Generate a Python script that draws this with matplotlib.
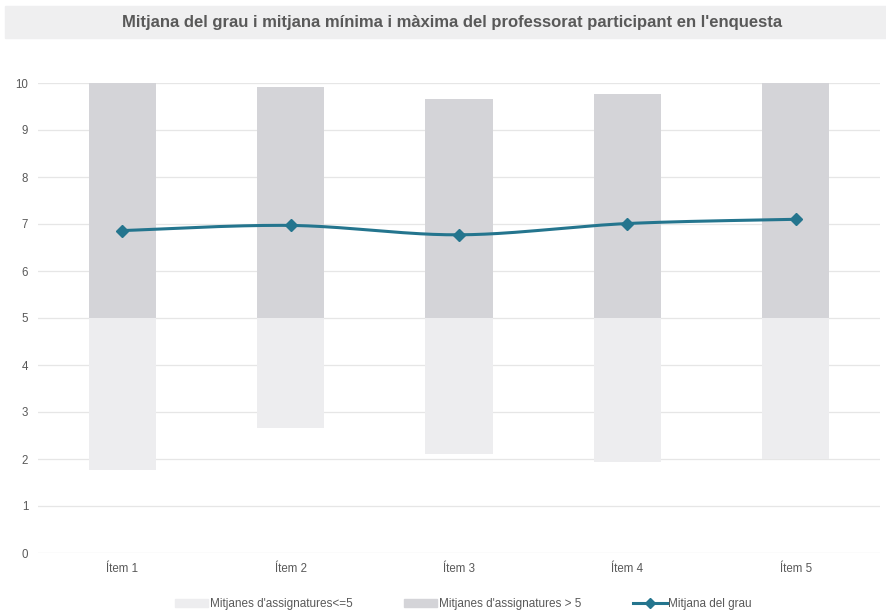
import numpy as np
import matplotlib.pyplot as plt
from matplotlib.patches import Patch, Rectangle
from matplotlib.lines import Line2D

plt.rcParams['font.family'] = ['Liberation Sans', 'DejaVu Sans']

# data
items = ['Ítem 1', 'Ítem 2', 'Ítem 3', 'Ítem 4', 'Ítem 5']
min_mean = [1.77, 2.67, 2.11, 1.93, 2.0]
max_mean = [10.0, 9.91, 9.67, 9.77, 10.0]
grade_mean = [6.86, 6.97, 6.77, 7.01, 7.10]
split = 5

title = "Mitjana del grau i mitjana mínima i màxima del professorat participant en l'enquesta"
labels = ["Mitjanes d'assignatures<=5", "Mitjanes d'assignatures > 5", 'Mitjana del grau']

c_low = '#EDEDEF'
c_high = '#D4D4D8'
c_line = '#24758E'
c_text = '#595959'


def smooth(x, y, n=40):
    # Catmull-Rom style bezier, similar to spreadsheet "smoothed line"
    x = np.asarray(x, float)
    y = np.asarray(y, float)
    px = np.concatenate([[x[0]], x, [x[-1]]])
    py = np.concatenate([[y[0]], y, [y[-1]]])
    xs, ys = [], []
    t = np.linspace(0, 1, n)
    for i in range(1, len(px) - 2):
        p0 = np.array([px[i], py[i]])
        p3 = np.array([px[i + 1], py[i + 1]])
        p1 = p0 + (np.array([px[i + 1], py[i + 1]]) - np.array([px[i - 1], py[i - 1]])) / 6
        p2 = p3 - (np.array([px[i + 2], py[i + 2]]) - np.array([px[i], py[i]])) / 6
        pts = ((1 - t) ** 3)[:, None] * p0 + (3 * (1 - t) ** 2 * t)[:, None] * p1 \
            + (3 * (1 - t) * t ** 2)[:, None] * p2 + (t ** 3)[:, None] * p3
        xs.extend(pts[:, 0])
        ys.extend(pts[:, 1])
    return np.array(xs), np.array(ys)


def main():
    fig = plt.figure(figsize=(8.86, 6.12), dpi=100)
    ax = fig.add_axes([38 / 886, 1 - 553 / 612, 842 / 886, 470 / 612])

    x = np.arange(len(items))
    low = np.array(min_mean)
    high = np.array(max_mean)

    ax.bar(x, split - low, bottom=low, width=0.4, color=c_low, zorder=2)
    ax.bar(x, high - split, bottom=split, width=0.4, color=c_high, zorder=2)

    sx, sy = smooth(x, grade_mean)
    ax.plot(sx, sy, color=c_line, lw=2.2, zorder=3, solid_capstyle='round')
    ax.plot(x, grade_mean, ls='none', marker='D', ms=6.5, color=c_line, zorder=4)

    ax.set_xlim(-0.5, len(items) - 0.5)
    ax.set_ylim(0, 10)
    ax.set_yticks(range(0, 11))
    ax.set_xticks(x)
    ax.set_xticklabels(items)
    ax.tick_params(axis='both', length=0, labelsize=8.3, labelcolor=c_text)
    ax.tick_params(axis='y', pad=7)
    ax.tick_params(axis='x', pad=7)
    ax.grid(axis='y', color='#E6E6E6', lw=0.9, zorder=0)
    for s in ax.spines.values():
        s.set_visible(False)

    # title band
    fig.patches.append(Rectangle((5 / 886, 1 - 38 / 612), 881 / 886, 32 / 612,
                                 transform=fig.transFigure, color='#EFEFF0', zorder=0))
    fig.text(0.51, 1 - 22 / 612, title, ha='center', va='center', fontsize=12,
             fontweight='bold', color=c_text)

    handles = [Patch(color=c_low), Patch(color=c_high),
               Line2D([], [], color=c_line, lw=2.2, marker='D', ms=5.5)]
    fig.legend(handles, labels, loc='center', bbox_to_anchor=(0.523, 1 - 604 / 612),
               ncol=3, frameon=False, fontsize=8.5, labelcolor=c_text,
               handlelength=2.8, handleheight=0.7, handletextpad=0.15, columnspacing=4.4)

    fig.savefig('out.png', dpi=100)


if __name__ == '__main__':
    main()
